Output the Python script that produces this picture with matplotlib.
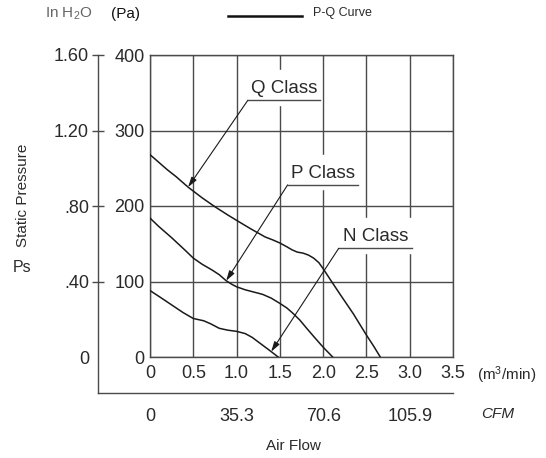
import numpy as np
import matplotlib
matplotlib.use("Agg")
import matplotlib.pyplot as plt

plt.rcParams['font.family'] = ['Liberation Sans', 'DejaVu Sans']
plt.rcParams['mathtext.default'] = 'regular'

# curves (m3/min, Pa)
q_flow = [0, 0.1, 0.2, 0.3, 0.44, 0.6, 0.75, 0.9, 1.0, 1.16, 1.33, 1.42, 1.5, 1.58, 1.64,
          1.7, 1.77, 1.83, 1.89, 1.95, 2.0, 2.08, 2.19, 2.35, 2.5, 2.58, 2.66]
q_pres = [268, 258, 248, 239, 225, 211, 199, 188, 181, 170, 159, 155, 151, 146, 142,
          139, 137.5, 135, 131, 125, 117, 103, 84, 57, 29, 15, 0]
p_flow = [0, 0.1, 0.25, 0.4, 0.5, 0.6, 0.72, 0.8, 0.88, 0.95, 1.0, 1.1, 1.2, 1.3, 1.4,
          1.5, 1.58, 1.65, 1.73, 1.81, 1.9, 2.0, 2.11]
p_pres = [184, 173, 158, 142, 131, 123, 115, 109, 101, 96, 93, 89, 86, 83, 78,
          71, 65, 58, 49, 38, 26, 13, 0]
n_flow = [0, 0.12, 0.25, 0.38, 0.5, 0.56, 0.62, 0.7, 0.8, 0.9, 1.0, 1.1, 1.18, 1.25,
          1.32, 1.39, 1.48]
n_pres = [88, 79, 69, 59, 51, 49.5, 48, 44, 38, 35.5, 34, 31, 26, 20, 14, 8, 0]

pa_ticks = [0, 100, 200, 300, 400]
inh2o_ticks = [0, 0.4, 0.8, 1.2, 1.6]
inh2o_labels = ['0', '.40', '.80', '1.20', '1.60']
flow_ticks = [0, 0.5, 1.0, 1.5, 2.0, 2.5, 3.0, 3.5]
flow_labels = ['0', '0.5', '1.0', '1.5', '2.0', '2.5', '3.0', '3.5']
cfm_ticks = [0, 1, 2, 3]
cfm_labels = ['0', '35.3', '70.6', '105.9']

W, H = 546, 458
fig = plt.figure(figsize=(W / 100, H / 100), dpi=100)

def px(x, y):
    return x / W, 1 - y / H

txt = '#2a2a2a'
grid_c = '#4a4a4a'
tick_fs = 13

# outer axis (inch H2O / CFM)
ax2 = fig.add_axes([98 / W, (H - 393) / H, (453 - 98) / W, (393 - 55) / H])
ax2.patch.set_visible(False)
ax2.set_xlim(-0.6007, 3.5)
ax2.set_ylim(-0.1907, 1.6)
for s in ['top', 'right']:
    ax2.spines[s].set_visible(False)
for s in ['left', 'bottom']:
    ax2.spines[s].set_color(grid_c)
    ax2.spines[s].set_linewidth(1.0)
ax2.set_yticks(inh2o_ticks)
ax2.set_yticklabels(inh2o_labels, fontsize=tick_fs, color=txt)
ax2.tick_params(axis='y', direction='inout', length=9, width=1.0, color=grid_c, pad=2)
ax2.yaxis.get_major_ticks()[0].tick1line.set_visible(False)
ax2.set_xticks(cfm_ticks)
ax2.set_xticklabels(cfm_labels, fontsize=tick_fs, color=txt)
ax2.tick_params(axis='x', length=0, pad=11)

# main chart
ax = fig.add_axes([150 / W, (H - 357) / H, 303 / W, 302 / H])
ax.set_xlim(0, 3.5)
ax.set_ylim(0, 400)
ax.set_xticks(flow_ticks)
ax.set_xticklabels(flow_labels, fontsize=tick_fs, color=txt)
ax.set_yticks(pa_ticks)
ax.set_yticklabels([str(t) for t in pa_ticks], fontsize=tick_fs, color=txt)
ax.tick_params(axis='both', length=0)
ax.tick_params(axis='y', pad=4)
ax.tick_params(axis='x', pad=6)
ax.grid(True, color=grid_c, linewidth=1.0)
for s in ax.spines.values():
    s.set_color(grid_c)
    s.set_linewidth(1.0)

for fx, fy in [(q_flow, q_pres), (p_flow, p_pres), (n_flow, n_pres)]:
    ax.plot(fx, fy, color='#1a1a1a', linewidth=1.1, zorder=3)

# class labels with underline and arrow
labels = [
    ('Q Class', 1.13, 1.96, 340, 0.44, q_flow, q_pres),
    ('P Class', 1.59, 2.40, 228, 0.88, p_flow, p_pres),
    ('N Class', 2.18, 3.03, 144, 1.40, n_flow, n_pres),
]
for name, x0, x1, yl, tipx, fx, fy in labels:
    tipy = np.interp(tipx, fx, fy)
    ax.fill_between([x0 - 0.02, x1 + 0.02], yl - 6, yl + 40, color='white', zorder=2.5)
    ax.text((x0 + x1) / 2, yl + 4, name, fontsize=13.5, color=txt, ha='center', va='bottom', zorder=4)
    ax.plot([x0, x1], [yl, yl], color=grid_c, linewidth=1.0, zorder=4)
    ax.annotate('', xy=(tipx, tipy), xytext=(x0, yl),
                arrowprops=dict(arrowstyle='-|>,head_length=0.6,head_width=0.18',
                                color='#1a1a1a', linewidth=0.8, shrinkA=0, shrinkB=0),
                zorder=4)

# surrounding text
fig.text(*px(23, 195), 'Static Pressure', rotation=90, ha='center', va='center', fontsize=11, color=txt)
fig.text(*px(22, 268), 'Ps', ha='center', va='center', fontsize=11.5, color=txt)
fig.text(*px(293, 446), 'Air Flow', ha='center', va='center', fontsize=11, color=txt)
fig.text(*px(498, 414), 'CFM', ha='center', va='center', fontsize=11, color=txt, style='italic')
fig.text(*px(477, 375), '(m$^3$/min)', ha='left', va='center', fontsize=11, color=txt)
fig.text(*px(45, 14), 'In H$_2$O', ha='left', va='center', fontsize=11, color='#666666')
fig.text(*px(111, 14), '(Pa)', ha='left', va='center', fontsize=11, color='#111111')
fig.add_artist(plt.Line2D([228 / W, 302 / W], [1 - 16 / H, 1 - 16 / H], color='#111111', linewidth=1.8))
fig.text(*px(313, 13), 'P-Q Curve', ha='left', va='center', fontsize=9, color=txt)

fig.savefig('out.png', dpi=100)
